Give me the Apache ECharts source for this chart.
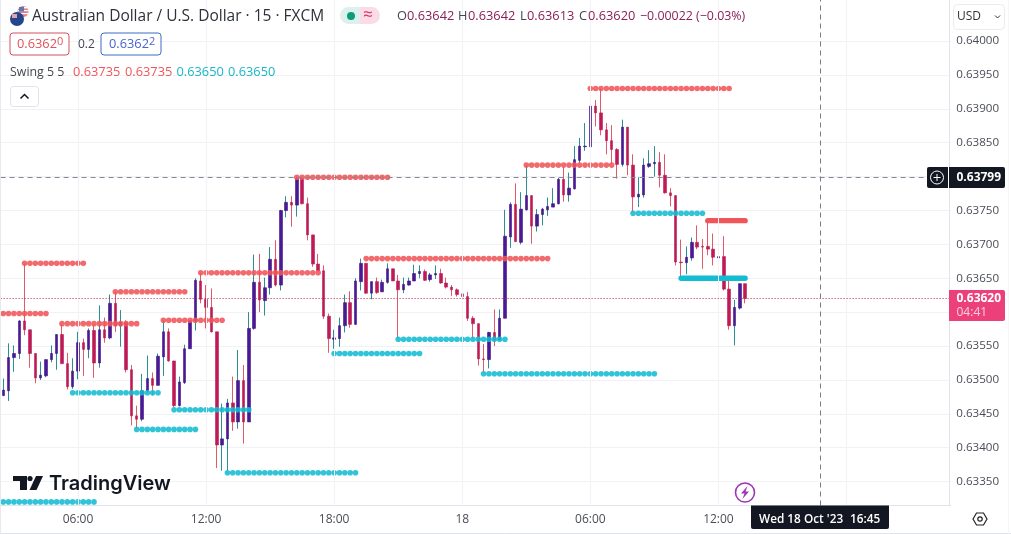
<!DOCTYPE html>
<html><head><meta charset="utf-8">
<style>html,body{margin:0;padding:0;background:#fff}#c{width:1011px;height:534px}</style>
<script src="https://cdn.jsdelivr.net/npm/echarts@6/dist/echarts.min.js"></script>
</head><body><div id="c"></div>
<script>
// prices are in units of 0.00001
const opens=[63477,63484,63533,63539,63587,63574,63539,63503,63506,63530,
63539,63567,63524,63490,63513,63555,63545,63573,63525,63574,
63562,63613,63580,63585,63515,63447,63442,63484,63502,63492,
63534,63571,63528,63462,63496,63546,63587,63646,63619,63607,
63571,63404,63413,63466,63438,63499,63438,63576,63644,63617,
63636,63678,63640,63750,63762,63758,63797,63760,63714,63671,
63661,63594,63560,63561,63580,63614,63582,63645,63672,63628,
63645,63630,63644,63664,63646,63633,63640,63646,63657,63660,
63648,63655,63657,63643,63637,63633,63627,63623,63591,63583,
63531,63530,63570,63559,63591,63711,63759,63703,63751,63772,
63727,63744,63751,63755,63760,63796,63773,63782,63824,63844,
63844,63904,63894,63869,63853,63840,63818,63873,63817,63770,
63773,63815,63819,63821,63802,63776,63772,63674,63673,63680,
63703,63697,63697,63693,63680,63682,63634,63580,63606,63642];
const closes=[63485,63533,63539,63587,63574,63539,63503,63507,63530,63539,
63567,63524,63490,63513,63555,63545,63573,63525,63574,63562,
63613,63580,63585,63515,63447,63442,63484,63502,63492,63535,
63571,63528,63462,63497,63546,63587,63647,63619,63607,63571,
63404,63413,63466,63438,63499,63438,63576,63644,63618,63636,
63678,63640,63750,63762,63758,63797,63760,63714,63671,63661,
63594,63561,63562,63580,63614,63582,63646,63672,63628,63645,
63629,63644,63664,63646,63633,63641,63646,63657,63660,63647,
63655,63657,63643,63637,63633,63626,63623,63591,63583,63531,
63530,63570,63559,63591,63712,63759,63704,63752,63772,63727,
63744,63752,63756,63760,63796,63773,63783,63825,63845,63845,
63904,63894,63869,63853,63840,63818,63873,63817,63770,63774,
63817,63819,63821,63802,63776,63772,63674,63673,63681,63703,
63696,63696,63693,63681,63682,63634,63580,63607,63642,63620];
const lows=[63476,63469,63512,63531,63566,63518,63495,63500,63504,63526,
63515,63524,63486,63487,63501,63506,63532,63503,63518,63555,
63560,63571,63549,63511,63433,63428,63439,63481,63477,63492,
63506,63527,63460,63461,63494,63546,63573,63613,63576,63570,
63370,63366,63366,63425,63428,63406,63438,63574,63600,63595,
63626,63638,63632,63740,63726,63741,63759,63706,63667,63661,
63590,63540,63546,63549,63570,63577,63581,63632,63627,63619,
63627,63630,63642,63646,63561,63628,63639,63646,63650,63646,
63645,63649,63642,63635,63624,63623,63622,63587,63561,63521,
63512,63517,63550,63558,63591,63695,63704,63700,63750,63701,
63719,63728,63742,63755,63759,63763,63763,63781,63820,63838,
63829,63874,63861,63833,63819,63797,63815,63802,63748,63755,
63769,63813,63800,63784,63775,63756,63669,63652,63656,63676,
63693,63664,63684,63669,63661,63632,63574,63551,63604,63613];
const highs=[63502,63554,63551,63588,63672,63574,63539,63527,63530,63551,
63567,63583,63540,63532,63571,63561,63576,63583,63610,63592,
63626,63630,63603,63588,63522,63462,63509,63536,63511,63539,
63588,63576,63528,63505,63552,63588,63650,63658,63640,63635,
63571,63465,63472,63505,63544,63522,63600,63685,63686,63651,
63696,63706,63751,63771,63771,63800,63800,63769,63714,63686,
63669,63598,63574,63592,63626,63631,63650,63679,63672,63645,
63651,63648,63672,63664,63655,63651,63651,63670,63669,63663,
63658,63669,63664,63651,63640,63635,63657,63630,63594,63583,
63553,63571,63604,63604,63751,63762,63790,63777,63817,63772,
63752,63754,63769,63783,63798,63814,63806,63845,63857,63879,
63930,63913,63930,63879,63876,63842,63884,63873,63833,63799,
63827,63839,63845,63836,63833,63783,63772,63707,63697,63710,
63728,63708,63733,63716,63700,63712,63652,63618,63642,63642];
// swing runs: [first bar, last bar, price]
const swingHighs=[[0,8,63598],[4,15,63672],[11,25,63583],[21,34,63630],[30,41,63588],[37,59,63658],[55,72,63799],[68,102,63679],[98,114,63817],[110,136,63930]];
const swingLows=[[0,17,63320],[13,29,63481],[25,36,63427],[32,46,63456],[42,66,63363],[62,78,63539],[74,94,63560],[90,122,63509],[118,131,63746]];
const activeHigh=[132,139,63735];
const activeLow=[127,139,63650];
const priceTicks=[63350,63400,63450,63500,63550,63600,63650,63700,63750,63800,63850,63900,63950,64000];
const lastPrice=63620, crossPrice=63799, crossBarTime='16:45';
const timeTicks=['06:00','12:00','18:00','18','06:00','12:00'];

// bar time labels, 15-minute bars from 02:30
const categories=[];
for(let i=0,m=150;i<178;i++,m+=15){
  const h=Math.floor(m/60)%24, mm=m%60;
  categories.push(h===0&&mm===0?'18':String(h).padStart(2,'0')+':'+String(mm).padStart(2,'0'));
}
const gridBars=[];
categories.forEach((c,i)=>{ if(c==='18'||(c.endsWith(':00')&&+c.slice(0,2)%6===0)) gridBars.push(i); });
const crossBar=categories.indexOf(crossBarTime,134);
const expand=r=>{const o=[];for(let i=r[0];i<=r[1];i++)o.push([i,r[2]]);return o;};
const UP='#4a1a96',DOWN='#c2185b',WUP='#2b8f95',WDOWN='#e2596a',RED='#f0555a',CYAN='#12bcd2';
const FONT='"Open Sans",sans-serif';
const wicks=opens.map((o,i)=>[o,closes[i],lows[i],highs[i]]);
const bodies=opens.map((o,i)=>{const c=closes[i];return [o,c,Math.min(o,c),Math.max(o,c)];});

const T=(x,y,text,size,fill,extra)=>({type:'text',x,y,z:50,style:Object.assign({text,font:`${size}px ${FONT}`,fill,textVerticalAlign:'middle'},extra||{})});
const graphic=[
 // flags
 {type:'circle',shape:{cx:23,cy:11.5,r:5.5},style:{fill:'#e8808a'},z:50},
 {type:'rect',shape:{x:18,y:7,width:10,height:1.4},style:{fill:'#fff'},z:51},
 {type:'rect',shape:{x:18,y:10,width:11,height:1.2},style:{fill:'#fff'},z:51},
 {type:'rect',shape:{x:18,y:13,width:11,height:1.2},style:{fill:'#fff'},z:51},
 {type:'rect',shape:{x:19,y:7,width:5,height:4.5},style:{fill:'#5a78b8'},z:52},
 {type:'circle',shape:{cx:17,cy:19,r:7},style:{fill:'#24468c'},z:53},
 {type:'rect',shape:{x:12,y:14,width:5,height:4},style:{fill:'#e9a0a8'},z:54},
 T(32,16.5,'Australian Dollar / U.S. Dollar · 15 · FXCM',15.5,'#2e3138'),
 // status pill
 {type:'rect',shape:{x:340,y:7,width:20,height:17,r:[8.5,0,0,8.5]},style:{fill:'#dcf0ec'},z:50},
 {type:'rect',shape:{x:360,y:7,width:20,height:17,r:[0,8.5,8.5,0]},style:{fill:'#fbdbe5'},z:50},
 {type:'circle',shape:{cx:351,cy:16,r:4},style:{fill:'#0f9a7c'},z:51},
 T(363,15.5,'≈',17,'#d6336c'),
 // OHLC
 T(397,16.5,'O',12.8,'#434651'),T(407,16.5,'0.63642',12.8,'#8a1f58'),
 T(458,16.5,'H',12.8,'#434651'),T(468,16.5,'0.63642',12.8,'#8a1f58'),
 T(520,16.5,'L',12.8,'#434651'),T(527,16.5,'0.63613',12.8,'#8a1f58'),
 T(579,16.5,'C',12.8,'#434651'),T(588,16.5,'0.63620',12.8,'#8a1f58'),
 T(640,16.5,'−0.00022 (−0.03%)',12.4,'#8a1f58'),
 // buy/sell boxes
 {type:'rect',shape:{x:10,y:33,width:59,height:22,r:3},style:{fill:'#fff',stroke:'#d4505f',lineWidth:1},z:50},
 T(17,44.5,'0.6362',12.8,'#e0525e'),
 T(57,42,'0',11,'#e0525e'),
 T(78,44.5,'0.2',12,'#434651'),
 {type:'rect',shape:{x:101,y:33,width:60,height:22,r:3},style:{fill:'#fff',stroke:'#3d6fc4',lineWidth:1},z:50},
 T(109,44.5,'0.6362',12.8,'#4a63cf'),
 T(149,42,'2',11,'#4a63cf'),
 // indicator legend
 T(10,72.5,'Swing 5 5',12.4,'#434651'),
 T(73,72.5,'0.63735',12.8,RED),T(125,72.5,'0.63735',12.8,RED),
 T(176.5,72.5,'0.63650',12.8,'#18b6c8'),T(228,72.5,'0.63650',12.8,'#18b6c8'),
 {type:'rect',shape:{x:10.5,y:86.5,width:28,height:20,r:3},style:{fill:'#fff',stroke:'#e0e3eb',lineWidth:1},z:50},
 {type:'polyline',shape:{points:[[20.5,98.5],[24.5,94.5],[28.5,98.5]]},style:{fill:'none',stroke:'#131722',lineWidth:1.5},z:51},
 // USD box
 {type:'rect',shape:{x:953.5,y:4.5,width:51,height:25,r:4},style:{fill:'#fff',stroke:'#ebebeb',lineWidth:1},z:50},
 T(957,17,'USD',12,'#333'),
 {type:'polyline',shape:{points:[[995,15.5],[997.5,18],[1000,15.5]]},style:{fill:'none',stroke:'#333',lineWidth:1},z:51},
 // crosshair price tag
 {type:'rect',shape:{x:927,y:167,width:78,height:21,r:2},style:{fill:'#131722'},z:50},
 {type:'line',shape:{x1:948.5,y1:167,x2:948.5,y2:188},style:{stroke:'#fff',lineWidth:1},z:51},
 {type:'circle',shape:{cx:937,cy:177.5,r:6.5},style:{fill:'none',stroke:'#fff',lineWidth:1},z:51},
 {type:'line',shape:{x1:933.5,y1:177.5,x2:940.5,y2:177.5},style:{stroke:'#fff',lineWidth:1},z:51},
 {type:'line',shape:{x1:937,y1:174,x2:937,y2:181},style:{stroke:'#fff',lineWidth:1},z:51},
 T(956.5,177.5,'0.63799',12,'#fff',{font:`bold 12px ${FONT}`}),
 // last price tag
 {type:'rect',shape:{x:949,y:290,width:56,height:31,r:[0,2,2,0]},style:{fill:'#ec407a'},z:50},
 T(956.5,298.5,'0.63620',12,'#fff',{font:`bold 12px ${FONT}`}),
 T(956.5,312.5,'04:41',12,'rgba(255,255,255,0.75)'),
 // time tag
 {type:'rect',shape:{x:751,y:505.5,width:138,height:23.5,r:[0,0,2,2]},style:{fill:'#131722'},z:50},
 T(759,519.5,"Wed 18 Oct '23",11.8,'#fff',{font:`600 11.8px ${FONT}`}),
 T(850,519.5,crossBarTime,11.8,'#fff',{font:`600 11.8px ${FONT}`}),
 // settings
 {type:'polygon',shape:{points:[[973,519],[976.5,513],[983.5,513],[987,519],[983.5,525],[976.5,525]]},style:{fill:'#fff',stroke:'#222',lineWidth:1.2},z:50},
 {type:'circle',shape:{cx:980,cy:519,r:2.2},style:{fill:'none',stroke:'#222',lineWidth:1.2},z:51},
 // bolt
 {type:'circle',shape:{cx:745,cy:492.5,r:9.5},style:{fill:'#fff',stroke:'#9c35b5',lineWidth:1.6},z:50},
 {type:'polygon',shape:{points:[[747.5,486],[741,493.5],[744.5,493.5],[742.5,499],[749,491.5],[745.5,491.5]]},style:{fill:'#9c35b5'},z:51},
 // logo
 {type:'rect',shape:{x:13,y:476,width:14,height:5},style:{fill:'#131722'},z:50},
 {type:'rect',shape:{x:20,y:476,width:7,height:14},style:{fill:'#131722'},z:50},
 {type:'circle',shape:{cx:30,cy:478.5,r:2.6},style:{fill:'#131722'},z:50},
 {type:'polygon',shape:{points:[[36,476],[43,476],[36.5,490],[29.5,490]]},style:{fill:'#131722'},z:50},
 T(49,484,'TradingView',20,'#131722',{font:'600 20px Inter,sans-serif'}),
 // outer frame
 {type:'line',shape:{x1:0,y1:533.5,x2:1011,y2:533.5},style:{stroke:'#e0e3eb',lineWidth:1},z:40},
 {type:'line',shape:{x1:1008.5,y1:0,x2:1008.5,y2:534},style:{stroke:'#f4f5f8',lineWidth:1},z:40},
 {type:'line',shape:{x1:0.5,y1:0,x2:0.5,y2:534},style:{stroke:'#e8e9ee',lineWidth:1},z:40}
];

const chart=echarts.init(document.getElementById('c'),null,{renderer:'canvas'});
chart.setOption({
 animation:false,backgroundColor:'#fff',
 grid:{left:0.6,top:0,width:950,height:505.5,containLabel:false},
 xAxis:{type:'category',data:categories,boundaryGap:true,
  axisLine:{show:true,lineStyle:{color:'#e0e3eb',width:1}},axisTick:{show:false},splitLine:{show:false},
  axisLabel:{color:'#4a4d57',fontSize:12,fontFamily:FONT,margin:8,hideOverlap:false,
   interval:(i,v)=>i<140&&gridBars.includes(i),
   formatter:(v,i)=>{const k=gridBars.indexOf(i);return k>=0&&k<timeTicks.length?timeTicks[k]:'';}}},
 yAxis:{type:'value',position:'right',min:63314.7,max:64060.6,offset:-1.3,scale:true,
  axisLine:{show:true,lineStyle:{color:'#e0e3eb',width:1}},
  axisTick:{show:false,customValues:priceTicks},
  splitLine:{show:true,lineStyle:{color:'#f1f2f6',width:1}},
  axisLabel:{customValues:priceTicks,color:'#4a4d57',fontSize:11.6,fontFamily:FONT,margin:7,
   formatter:v=>(v/100000).toFixed(5)}},
 graphic,
 series:[
  {type:'line',z:0,silent:true,data:[],markLine:{silent:true,symbol:'none',animation:false,label:{show:false},
    lineStyle:{color:'#f1f2f6',width:1,type:'solid'},data:gridBars.map(i=>({xAxis:i}))}},
  {type:'candlestick',z:2,silent:true,barWidth:1,data:wicks,
    itemStyle:{color:WUP,color0:WDOWN,borderColor:WUP,borderColor0:WDOWN,borderWidth:1}},
  {type:'candlestick',z:3,silent:true,barWidth:3,data:bodies,
    itemStyle:{color:UP,color0:DOWN,borderColor:'#3f1485',borderColor0:'#b5234f',borderWidth:0.6}},
  {type:'scatter',z:4,silent:true,symbolSize:5.6,data:swingHighs.flatMap(expand),itemStyle:{color:RED,opacity:0.88}},
  {type:'scatter',z:4,silent:true,symbolSize:5.6,data:swingLows.flatMap(expand),itemStyle:{color:CYAN,opacity:0.88}},
  {type:'line',z:4,silent:true,symbol:'none',data:expand(activeHigh),lineStyle:{color:RED,width:5.4,cap:'round'}},
  {type:'line',z:4,silent:true,symbol:'none',data:expand(activeLow),lineStyle:{color:CYAN,width:5.4,cap:'round'}},
  {type:'line',z:5,silent:true,data:[],markLine:{silent:true,symbol:'none',animation:false,label:{show:false},
    data:[
     {yAxis:lastPrice,lineStyle:{color:'#b5234f',width:1,type:[1,2]}},
     {yAxis:crossPrice,lineStyle:{color:'#858892',width:1,type:[5,4]}},
     {xAxis:crossBar,lineStyle:{color:'#787b86',width:1,type:[5,4]}}
    ]}}
 ]
});
</script></body></html>
